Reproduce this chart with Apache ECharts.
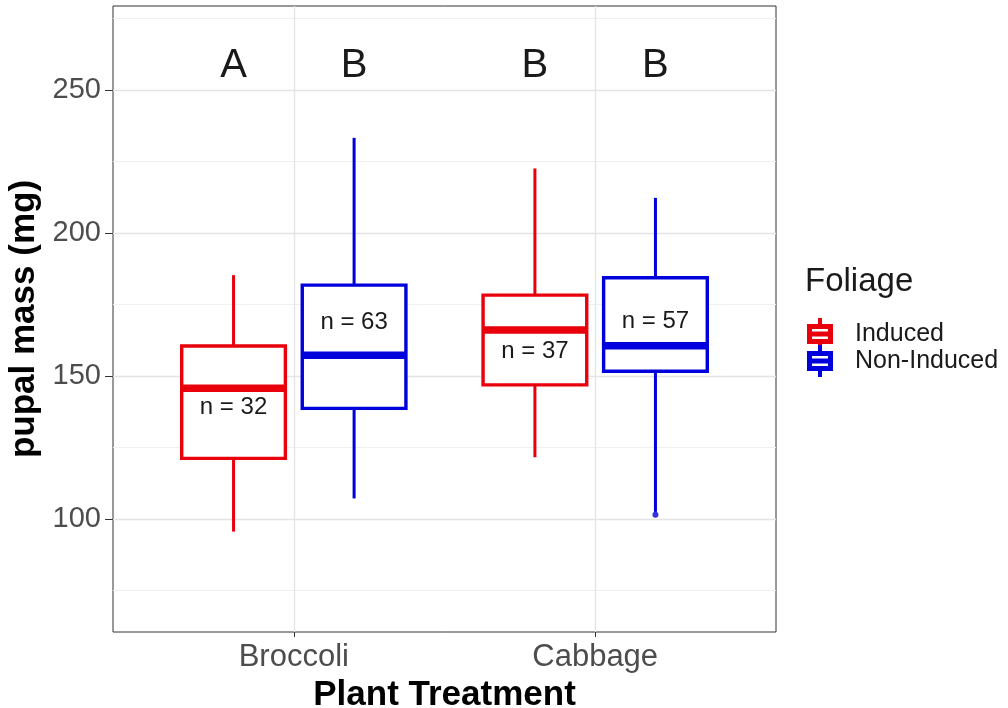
<!DOCTYPE html>
<html>
<head>
<meta charset="utf-8">
<title>Pupal mass by plant treatment</title>
<script src="https://cdn.jsdelivr.net/npm/echarts@6/dist/echarts.min.js"></script>
<style>
  html, body { margin: 0; padding: 0; background: #ffffff; }
  #chart { width: 1008px; height: 708px; }
</style>
</head>
<body>
<div id="chart"></div>
<script>
// ---- data ----
const treatments = ['Broccoli', 'Cabbage'];
const foliageGroups = ['Induced', 'Non-Induced'];

// five-number summaries per treatment: [lower whisker, Q1, median, Q3, upper whisker]
const inducedStats = [
  [95.6, 121.2, 145.7, 160.5, 185.3],
  [121.6, 146.9, 166.1, 178.3, 222.6]
];
const nonInducedStats = [
  [107.2, 138.7, 157.3, 181.8, 233.3],
  [102.5, 151.7, 160.6, 184.4, 212.3]
];

// outlying points: [treatment index, mass]
const inducedOutliers = [];
const nonInducedOutliers = [[1, 101.5]];

// sample sizes and the height their labels sit at
const inducedN = [32, 37];
const nonInducedN = [63, 57];
const inducedNLabelY = [139.2, 158.8];
const nonInducedNLabelY = [168.7, 169.2];

// compact letter display (significance groups)
const inducedLetters = ['A', 'B'];
const nonInducedLetters = ['B', 'B'];
const letterY = 258.5;

// axis ticks
const yMajorTicks = [100, 150, 200, 250];
const yMinorTicks = [75, 125, 175, 225, 275];
const xTicks = [1, 2];

// ---- layout / style ----
const FONT = '"Liberation Sans", Arial, Helvetica, sans-serif';
const COLORS = { 'Induced': '#e8000b', 'Non-Induced': '#0000dc' };
const DODGE = 0.2;       // horizontal offset of each group from its treatment position
const BOX_HALF = 0.172;  // half width of a box in x units
const Y_MIN = 60.5, Y_MAX = 279.4;
const X_MIN = 0.4, X_MAX = 2.6;

function groupOffset(g) { return g === 0 ? -DODGE : DODGE; }

function boxData(stats, g) {
  return stats.map((s, i) => [i + 1 + groupOffset(g)].concat(s));
}
function pointData(points, g) {
  return points.map(p => [p[0] + 1 + groupOffset(g), p[1]]);
}

function renderBox(params, api) {
  const x = api.value(0);
  const lo = api.value(1), q1 = api.value(2), med = api.value(3), q3 = api.value(4), hi = api.value(5);
  const tl = api.coord([x - BOX_HALF, q3]);
  const br = api.coord([x + BOX_HALF, q1]);
  const pHi = api.coord([x, hi]);
  const pLo = api.coord([x, lo]);
  const mL = api.coord([x - BOX_HALF, med]);
  const mR = api.coord([x + BOX_HALF, med]);
  const c = api.visual('color');
  return {
    type: 'group',
    children: [
      { type: 'line', shape: { x1: pHi[0], y1: pHi[1], x2: pHi[0], y2: tl[1] }, style: { stroke: c, lineWidth: 3 } },
      { type: 'line', shape: { x1: pLo[0], y1: br[1], x2: pLo[0], y2: pLo[1] }, style: { stroke: c, lineWidth: 3 } },
      { type: 'rect', shape: { x: tl[0], y: tl[1], width: br[0] - tl[0], height: br[1] - tl[1] },
        style: { fill: '#ffffff', stroke: c, lineWidth: 3.4 } },
      { type: 'line', shape: { x1: mL[0], y1: mL[1], x2: mR[0], y2: mR[1] }, style: { stroke: c, lineWidth: 7.5 } }
    ]
  };
}

function textSeries(texts, ys, g, size) {
  const data = texts.map((t, i) => [i + 1 + groupOffset(g), Array.isArray(ys) ? ys[i] : ys]);
  return {
    type: 'custom',
    z: 4,
    silent: true,
    data: data,
    renderItem: function (params, api) {
      const p = api.coord([api.value(0), api.value(1)]);
      return {
        type: 'text',
        x: p[0], y: p[1],
        style: {
          text: String(texts[params.dataIndex]),
          font: size + 'px ' + FONT,
          fill: '#1a1a1a',
          align: 'center',
          verticalAlign: 'middle'
        }
      };
    }
  };
}

// legend glyph: a miniature box with whiskers and a median bar (26 x 32 units)
const BOX_ICON = 'path://' +
  'M11 0h4v6h-4Z' +
  'M0 6h26v5h-26Z' +
  'M0 6h5v20h-5Z' +
  'M21 6h5v20h-5Z' +
  'M0 21h26v5h-26Z' +
  'M0 13.5h26v5h-26Z' +
  'M11 26h4v6h-4Z';

const majorGrid = { color: '#e4e4e4', width: 1.3, type: 'solid' };
const minorGrid = { color: '#f0f0f0', width: 1, type: 'solid' };

const gridLines = []
  .concat(yMinorTicks.map(v => ({ yAxis: v, lineStyle: minorGrid })))
  .concat(yMajorTicks.map(v => ({ yAxis: v, lineStyle: majorGrid })))
  .concat(xTicks.map(v => ({ xAxis: v, lineStyle: majorGrid })));

const option = {
  animation: false,
  backgroundColor: '#ffffff',
  textStyle: { fontFamily: FONT },
  grid: {
    left: 113, top: 6, right: 232, bottom: 76,
    outerBoundsMode: 'none',
    containLabel: false,
    show: true, borderColor: '#333333', borderWidth: 1, backgroundColor: 'transparent'
  },
  title: {
    text: 'Foliage',
    left: 800, top: 260,
    textStyle: { fontFamily: FONT, fontSize: 33, fontWeight: 'normal', color: '#1a1a1a' }
  },
  legend: {
    orient: 'vertical',
    left: 807, top: 318,
    padding: 0,
    itemWidth: 26, itemHeight: 32, itemGap: -5,
    data: foliageGroups.map(n => ({ name: n, icon: BOX_ICON })),
    textStyle: { fontFamily: FONT, fontSize: 25, color: '#1a1a1a', padding: [0, 0, 0, 17] },
    selectedMode: false
  },
  xAxis: {
    type: 'value',
    min: X_MIN, max: X_MAX,
    name: 'Plant Treatment',
    nameLocation: 'middle',
    nameGap: 46,
    nameTextStyle: { fontFamily: FONT, fontSize: 35, fontWeight: 'bold', color: '#000000' },
    axisLine: { show: false },
    splitLine: { show: false },
    axisTick: { show: true, customValues: xTicks, length: 5, lineStyle: { color: '#333333', width: 1 } },
    axisLabel: {
      customValues: xTicks,
      formatter: v => treatments[Math.round(v) - 1] || '',
      fontFamily: FONT, fontSize: 31, color: '#4d4d4d', margin: 10
    }
  },
  yAxis: {
    type: 'value',
    min: Y_MIN, max: Y_MAX,
    name: 'pupal mass (mg)',
    nameLocation: 'middle',
    nameGap: 64,
    nameRotate: 90,
    nameTextStyle: { fontFamily: FONT, fontSize: 35, fontWeight: 'bold', color: '#000000' },
    axisLine: { show: false },
    splitLine: { show: false },
    axisTick: { show: true, customValues: yMajorTicks, length: 8, lineStyle: { color: '#333333', width: 1 } },
    axisLabel: {
      customValues: yMajorTicks,
      fontFamily: FONT, fontSize: 29, color: '#4d4d4d', margin: 12
    }
  },
  series: [
    {
      type: 'line',
      data: [],
      silent: true,
      markLine: {
        silent: true,
        z: 1,
        symbol: ['none', 'none'],
        label: { show: false },
        emphasis: { disabled: true },
        data: gridLines
      }
    },
    {
      name: 'Induced',
      type: 'custom',
      z: 3,
      color: COLORS['Induced'],
      itemStyle: { color: COLORS['Induced'] },
      data: boxData(inducedStats, 0),
      renderItem: renderBox
    },
    {
      name: 'Non-Induced',
      type: 'custom',
      z: 3,
      color: COLORS['Non-Induced'],
      itemStyle: { color: COLORS['Non-Induced'] },
      data: boxData(nonInducedStats, 1),
      renderItem: renderBox
    },
    {
      type: 'scatter',
      z: 3,
      symbolSize: 6,
      itemStyle: { color: COLORS['Induced'] },
      data: pointData(inducedOutliers, 0)
    },
    {
      type: 'scatter',
      z: 3,
      symbolSize: 6,
      itemStyle: { color: COLORS['Non-Induced'] },
      data: pointData(nonInducedOutliers, 1)
    },
    textSeries(inducedN.map(n => 'n = ' + n), inducedNLabelY, 0, 24),
    textSeries(nonInducedN.map(n => 'n = ' + n), nonInducedNLabelY, 1, 24),
    textSeries(inducedLetters, letterY, 0, 40),
    textSeries(nonInducedLetters, letterY, 1, 40)
  ]
};

const chart = echarts.init(document.getElementById('chart'), null, { renderer: 'canvas' });
chart.setOption(option);
</script>
</body>
</html>
